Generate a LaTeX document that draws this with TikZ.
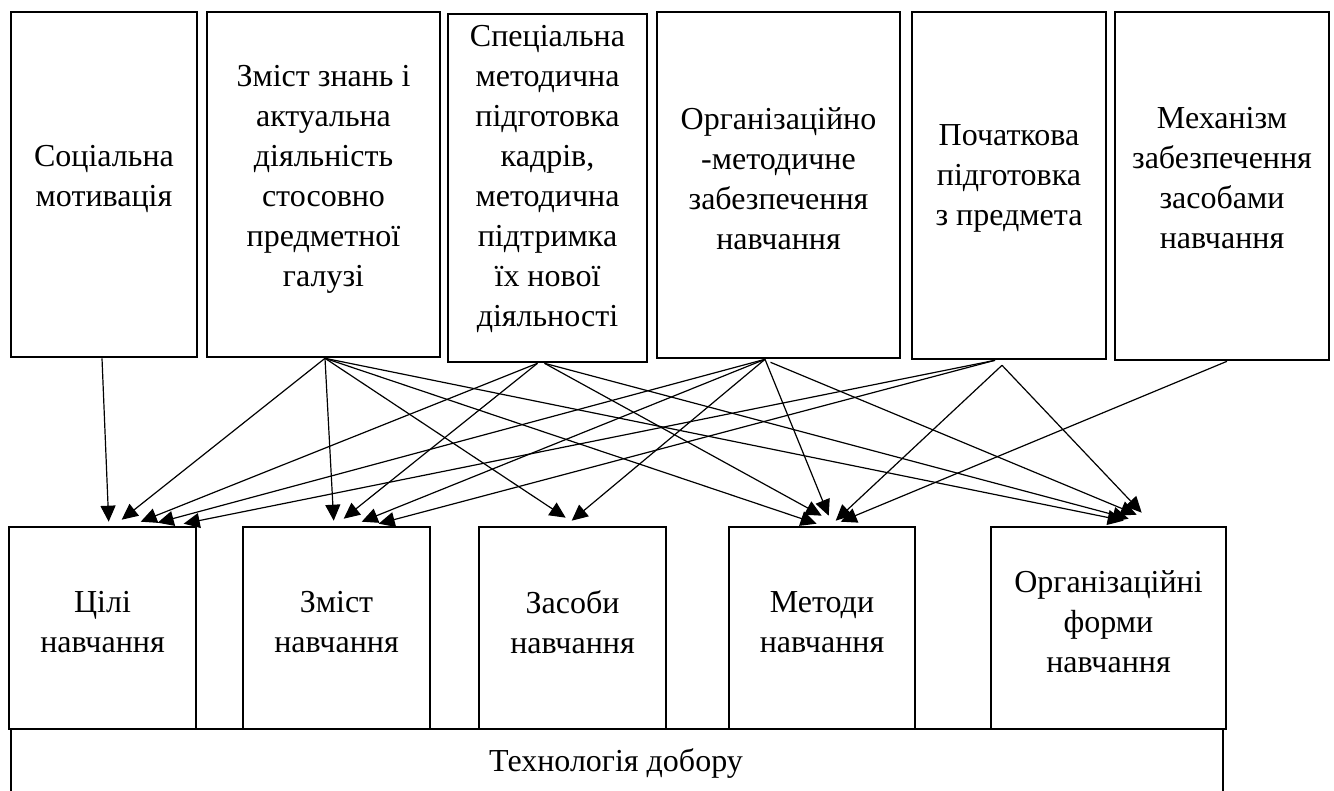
\documentclass[tikz,border=0pt]{standalone}
\usepackage{fontspec}
\setmainfont{Liberation Serif}
\usetikzlibrary{arrows.meta}
\begin{document}
\begin{tikzpicture}[x=1pt,y=-1pt,
  box/.style={draw=black,line width=2.6pt,inner sep=0pt},
  txt/.style={align=center,inner sep=0pt,font=\fontsize{32}{40}\selectfont},
  arr/.style={line width=1.2pt,-{Triangle[length=16pt,width=15pt]}}]
\useasboundingbox (0,0) rectangle (1334,791);
\clip (0,0) rectangle (1334,791);
% top boxes
\node[box,minimum width=186pt,minimum height=345pt] (t1) at (104,184.5) {};
\node[box,minimum width=233pt,minimum height=345pt] (t2) at (323.5,184.5) {};
\node[box,minimum width=199pt,minimum height=348pt] (t3) at (547.5,188) {};
\node[box,minimum width=243pt,minimum height=346pt] (t4) at (778.5,185) {};
\node[box,minimum width=194pt,minimum height=347pt] (t5) at (1009,185.5) {};
\node[box,minimum width=214pt,minimum height=348pt] (t6) at (1222,186) {};
\node[txt] (l1) at (104,179) {Соціальна\\мотивація};
\node[txt] (l2) at (323.5,179) {Зміст знань і\\актуальна\\діяльність\\стосовно\\предметної\\галузі};
\node[txt] (l3) at (547.5,179) {Спеціальна\\методична\\підготовка\\кадрів,\\методична\\підтримка\\їх нової\\діяльності};
\node[txt] (l4) at (778.5,179) {Організаційно\\-методичне\\забезпечення\\навчання};
\node[txt] (l5) at (1009,178) {Початкова\\підготовка\\з предмета};
\node[txt] (l6) at (1222,178) {Механізм\\забезпечення\\засобами\\навчання};
% bottom boxes
\node[box,minimum width=187pt,minimum height=202pt] (b1) at (102.5,628) {};
\node[box,minimum width=187pt,minimum height=202pt] (b2) at (336.5,628) {};
\node[box,minimum width=187pt,minimum height=202pt] (b3) at (572.5,628) {};
\node[box,minimum width=186pt,minimum height=202pt] (b4) at (822,628) {};
\node[box,minimum width=235pt,minimum height=202pt] (b5) at (1108.5,628) {};
\node[txt] (m1) at (102.5,622) {Цілі\\навчання};
\node[txt] (m2) at (336.5,622) {Зміст\\навчання};
\node[txt] (m3) at (572.5,622) {Засоби\\навчання};
\node[txt] (m4) at (822,622) {Методи\\навчання};
\node[txt] (m5) at (1108.5,622) {Організаційні\\форми\\навчання};
% technology box
\node[box,minimum width=1212pt,minimum height=120pt] (bt) at (617,789) {};
\node[txt] (mt) at (616,763) {Технологія добору};
% arrows to Цілі
\draw[arr] ([xshift=-2pt]t1.south) -- ([shift={(101pt,4pt)}]b1.north west);
\draw[arr] ([xshift=1.5pt]t2.south) -- ([shift={(114pt,6pt)}]b1.north west);
\draw[arr] ([xshift=-10pt]t3.south) -- ([shift={(133pt,4pt)}]b1.north west);
\draw[arr] ([xshift=-13.5pt]t4.south) -- ([shift={(150pt,3pt)}]b1.north west);
\draw[arr] ([xshift=-14pt]t5.south) -- ([shift={(176pt,2pt)}]b1.north west);
% arrows to Зміст
\draw[arr] ([xshift=1.5pt]t2.south) -- ([shift={(92pt,5pt)}]b2.north west);
\draw[arr] ([xshift=-10pt]t3.south) -- ([shift={(102pt,7pt)}]b2.north west);
\draw[arr] ([xshift=-13.5pt]t4.south) -- ([shift={(120pt,4pt)}]b2.north west);
\draw[arr] ([xshift=-14pt]t5.south) -- ([shift={(137pt,2pt)}]b2.north west);
% arrows to Засоби
\draw[arr] ([xshift=1.5pt]t2.south) -- ([shift={(88pt,8pt)}]b3.north west);
\draw[arr] ([xshift=-13.5pt]t4.south) -- ([shift={(94pt,5pt)}]b3.north west);
% arrows to Методи
\draw[arr] ([xshift=1.5pt]t2.south) -- ([shift={(89pt,2pt)}]b4.north west);
\draw[arr] ([xshift=-3pt]t3.south) -- ([shift={(94pt,10pt)}]b4.north west);
\draw[arr] ([xshift=-13.5pt]t4.south) -- ([shift={(101pt,10pt)}]b4.north west);
\draw[arr] ([shift={(-7pt,-5pt)}]t5.south) -- ([shift={(108pt,5pt)}]b4.north west);
\draw[arr] ([xshift=5pt]t6.south) -- ([shift={(113pt,4pt)}]b4.north west);
% arrows to Організаційні форми
\draw[arr] ([xshift=1.5pt]t2.south) -- ([shift={(134pt,5pt)}]b5.north west);
\draw[arr] ([xshift=-3pt]t3.south) -- ([shift={(139pt,7pt)}]b5.north west);
\draw[arr] ([shift={(-8pt,-3pt)}]t4.south) -- ([shift={(147pt,11pt)}]b5.north west);
\draw[arr] ([shift={(-7pt,-5pt)}]t5.south) -- ([shift={(152pt,13pt)}]b5.north west);
\end{tikzpicture}
\end{document}
